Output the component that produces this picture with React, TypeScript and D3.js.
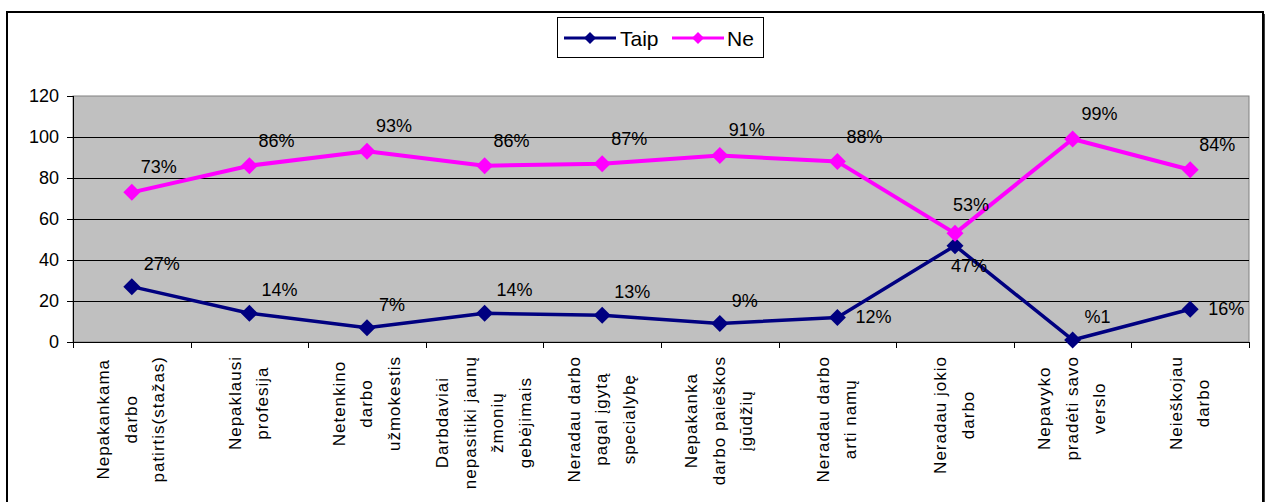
import React from "react";
import * as d3 from "d3";

const categories: string[][] = [
  ["Nepakankama", "darbo", "patirtis(stažas)"],
  ["Nepaklausi", "profesija"],
  ["Netenkino", "darbo", "užmokestis"],
  ["Darbdaviai", "nepasitiki jaunų", "žmonių", "gebėjimais"],
  ["Neradau darbo", "pagal įgytą", "specialybę"],
  ["Nepakanka", "darbo paieškos", "įgūdžių"],
  ["Neradau darbo", "arti namų"],
  ["Neradau jokio", "darbo"],
  ["Nepavyko", "pradėti savo", "verslo"],
  ["Neieškojau", "darbo"],
];

const taipValues = [27, 14, 7, 14, 13, 9, 12, 47, 1, 16];
const neValues = [73, 86, 93, 86, 87, 91, 88, 53, 99, 84];
const taipLabels = ["27%", "14%", "7%", "14%", "13%", "9%", "12%", "47%", "%1", "16%"];
const neLabels = ["73%", "86%", "93%", "86%", "87%", "91%", "88%", "53%", "99%", "84%"];
const yTicks = [0, 20, 40, 60, 80, 100, 120];

const W = 1269;
const H = 502;
const PL = 73;
const PR = 1249;
const PT = 96;
const PB = 342;
const FONT = "'Liberation Sans', Arial, sans-serif";
const TAIP = "#000080";
const NE = "#FF00FF";

let ctx: CanvasRenderingContext2D | null = null;
function measure(text: string, size: number, spacing: number) {
  if (!ctx && typeof document !== "undefined") {
    ctx = document.createElement("canvas").getContext("2d");
  }
  if (!ctx) return text.length * size * 0.55;
  ctx.font = `${size}px 'Liberation Sans', Arial, sans-serif`;
  return ctx.measureText(text).width + spacing * text.length;
}

type Placement = { dx: number; dy: number };

function taipPlacement(i: number): Placement {
  const v = taipValues[i];
  if (neValues[i] - v < 10) return { dx: -4, dy: 26 };
  const next = taipValues[i + 1];
  const prev = taipValues[i - 1];
  if ((next !== undefined && next - v > 20) || (next === undefined && prev !== undefined && v - prev > 10)) {
    return { dx: 18, dy: 6 };
  }
  return { dx: 12, dy: -17 };
}

function nePlacement(i: number): Placement {
  const v = neValues[i];
  const next = neValues[i + 1];
  const prev = neValues[i - 1];
  if (next !== undefined && prev !== undefined && prev - v > 20 && next - v > 20) {
    return { dx: -2, dy: -22 };
  }
  return { dx: 9, dy: -19 };
}

function diamond(cx: number, cy: number, r: number) {
  return `M${cx},${cy - r}L${cx + r},${cy}L${cx},${cy + r}L${cx - r},${cy}Z`;
}

export default function App() {
  const idx = categories.map((_, i) => i);
  const x = d3.scaleBand<number>().domain(idx).range([PL, PR]);
  const y = d3.scaleLinear().domain([0, 120]).range([PB, PT]);
  const cx = (i: number) => (x(i) as number) + x.bandwidth() / 2;
  const line = d3
    .line<number>()
    .x((_, i) => cx(i))
    .y((d) => y(d));

  const boundaries = idx.map((i) => x(i) as number).concat([PR]);
  const lineGap = 27.5;
  const labelTop = 356;

  return (
    <div style={{ position: "absolute", left: 0, top: 0 }}>
      <svg width={W} height={H} style={{ display: "block" }} fontFamily={FONT}>
        <rect x={0} y={0} width={W} height={H} fill="#fff" />
        <rect x={7} y={12} width={1256} height={520} fill="#fff" stroke="#000" strokeWidth={2} />
        <line x1={1264} y1={14} x2={1264} y2={H} stroke="#000" strokeWidth={1.5} />

        {/* plot area */}
        <rect x={PL} y={PT} width={PR - PL} height={PB - PT} fill="#C0C0C0" stroke="#808080" strokeWidth={1} />
        {yTicks
          .filter((t) => t > 0 && t < 120)
          .map((t) => (
            <line key={t} x1={PL} x2={PR} y1={Math.round(y(t)) + 0.5} y2={Math.round(y(t)) + 0.5} stroke="#000" strokeWidth={1} />
          ))}

        {/* y axis */}
        <line x1={PL + 0.5} x2={PL + 0.5} y1={PT} y2={PB} stroke="#000" strokeWidth={1} />
        {yTicks.map((t) => (
          <g key={t}>
            <line x1={PL - 6} x2={PL} y1={Math.round(y(t)) + 0.5} y2={Math.round(y(t)) + 0.5} stroke="#000" strokeWidth={1} />
            <text x={59} y={y(t)} dy="0.36em" textAnchor="end" fontSize={18} fill="#000">
              {t}
            </text>
          </g>
        ))}

        {/* x axis */}
        <line x1={PL} x2={PR} y1={PB + 0.5} y2={PB + 0.5} stroke="#000" strokeWidth={1} />
        {boundaries.map((b, i) => (
          <line key={i} x1={Math.round(b) + 0.5} x2={Math.round(b) + 0.5} y1={PB} y2={PB + 6} stroke="#000" strokeWidth={1} />
        ))}

        {categories.map((lines, i) => {
          const maxLen = d3.max(lines, (l) => measure(l, 17, 1)) as number;
          const centerY = labelTop + maxLen / 2;
          const n = lines.length;
          return (
            <g key={i}>
              {lines.map((l, j) => {
                const lx = cx(i) + (j - (n - 1) / 2) * lineGap;
                return (
                  <text
                    key={j}
                    transform={`translate(${lx},${centerY}) rotate(-90)`}
                    textAnchor="middle"
                    dy="0.3em"
                    fontSize={17}
                    letterSpacing={1}
                    fill="#000"
                  >
                    {l}
                  </text>
                );
              })}
            </g>
          );
        })}

        {/* series */}
        <path d={line(taipValues) || ""} fill="none" stroke={TAIP} strokeWidth={3.5} strokeLinejoin="round" />
        <path d={line(neValues) || ""} fill="none" stroke={NE} strokeWidth={4} strokeLinejoin="round" />
        {taipValues.map((v, i) => (
          <path key={"t" + i} d={diamond(cx(i), y(v), 8.5)} fill={TAIP} />
        ))}
        {neValues.map((v, i) => (
          <path key={"n" + i} d={diamond(cx(i), y(v), 8.5)} fill={NE} />
        ))}

        {/* data labels */}
        {taipValues.map((v, i) => {
          const p = taipPlacement(i);
          return (
            <text key={"tl" + i} x={cx(i) + p.dx} y={y(v) + p.dy} fontSize={18} fill="#000">
              {taipLabels[i]}
            </text>
          );
        })}
        {neValues.map((v, i) => {
          const p = nePlacement(i);
          return (
            <text key={"nl" + i} x={cx(i) + p.dx} y={y(v) + p.dy} fontSize={18} fill="#000">
              {neLabels[i]}
            </text>
          );
        })}

        {/* legend */}
        <rect x={557.5} y={17.5} width={206} height={40} fill="#fff" stroke="#000" strokeWidth={1} />
        <line x1={564} x2={616} y1={38} y2={38} stroke={TAIP} strokeWidth={3} />
        <path d={diamond(590, 38, 6)} fill={TAIP} />
        <text x={620} y={38} dy="0.36em" fontSize={21} fill="#000">
          Taip
        </text>
        <line x1={672} x2={724} y1={38} y2={38} stroke={NE} strokeWidth={3} />
        <path d={diamond(698, 38, 6)} fill={NE} />
        <text x={727} y={38} dy="0.36em" fontSize={21} fill="#000">
          Ne
        </text>
      </svg>
    </div>
  );
}
